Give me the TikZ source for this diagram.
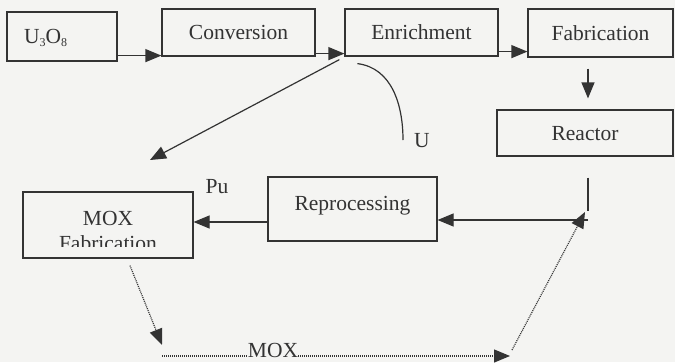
\documentclass[tikz,border=0pt]{standalone}
\usepackage{fontspec}
\setmainfont{Liberation Serif}
\usetikzlibrary{arrows.meta}
\definecolor{ink}{HTML}{333333}
\definecolor{paper}{HTML}{F4F4F2}
\begin{document}
\begin{tikzpicture}[x=1pt,y=-1pt,
  font=\fontsize{21.5}{25}\selectfont,
  box/.style={draw=ink, line width=1.2pt, inner sep=0pt, text=ink},
  low/.style={text height=17pt, text depth=3pt},
  lbl/.style={text=ink, inner sep=0pt},
  link/.style={draw=ink, line width=1.2pt},
  flow/.style={link, -{Triangle[length=16pt,width=13pt]}},
  dots/.style={draw=ink, line width=1.2pt, dash pattern=on 1pt off 1pt,
               -{Triangle[length=16pt,width=13pt]}}]
\fill[paper] (0,0) rectangle (675,362);
\useasboundingbox (0,0) rectangle (675,362);

% main fuel chain
\node[box, low, minimum width=110pt, minimum height=49pt, text width=76pt,
      inner xsep=17pt, align=left] (u3o8) at (62,36.5)
  {U{\fontsize{12}{12}\selectfont\raisebox{-3pt}{3}}O{\fontsize{12}{12}\selectfont\raisebox{-3pt}{8}}};
\node[box, low, minimum width=153pt, minimum height=47pt] (conv) at (238.5,32.5) {Conversion};
\node[box, low, minimum width=153pt, minimum height=47pt] (enr) at (421.5,32.5) {Enrichment};
\node[box, low, minimum width=145pt, minimum height=48pt] (fab) at (600.5,33) {Fabrication};
\node[box, low, minimum width=176pt, minimum height=46pt] (reac) at (585,133) {Reactor};
\node[box, text depth=12pt, minimum width=169pt, minimum height=64pt] (repro) at (352.5,209) {Reprocessing};
\node[box, minimum width=170pt, minimum height=66pt] (mox) at (108,225) {};
\node[lbl] (moxa) at (108,218) {MOX};
\begin{scope}
  \clip (23,192) rectangle (193,246);
  \node[lbl, anchor=base] (moxb) at (108,250) {Fabrication};
\end{scope}

\draw[flow] ([yshift=6pt]u3o8.south east) -- ([yshift=6pt]u3o8.south east -| conv.west);
\draw[flow] ([yshift=3pt]conv.south east) -- ([yshift=3pt]conv.south east -| enr.west);
\draw[flow] ([yshift=5pt]enr.south east) -- ([yshift=5pt]enr.south east -| fab.west);
\draw[flow] ([xshift=-12.5pt,yshift=-11pt]fab.south) -- ([xshift=3pt,yshift=11pt]reac.north);

% spent fuel to reprocessing
\draw[link] ([xshift=3pt,yshift=-21pt]reac.south) -- ++(0,33);
\coordinate (rx) at (588,220);
\draw[flow] (rx) -- (rx -| repro.east);

% plutonium to MOX fabrication
\draw[flow] ([yshift=-13pt]repro.west) -- ([yshift=-13pt]repro.west -| mox.east);
\node[lbl] (pu) at (217,187) {Pu};

% uranium return
\coordinate (dtip) at (150,160);
\draw[flow] ([xshift=-5pt,yshift=-3pt]enr.south west) -- (dtip);
\coordinate (uend) at (403,140);
\draw[link] ([xshift=13pt,yshift=-7pt]enr.south west)
  .. controls (392,68) and (403,105) .. (uend);
\node[lbl] (ulbl) at (422,141) {U};

% MOX fuel back to the reactor
\coordinate (d1) at (162,345);
\coordinate (d2) at (162,356);
\coordinate (d3) at (510,356);
\coordinate (d4) at (512,350);
\draw[dots] ([xshift=22pt,yshift=-7pt]mox.south) -- (d1);
\draw[dots] (d2) -- (d3);
\draw[dots] (d4) -- ([xshift=-3pt,yshift=8pt]rx);
\node[lbl, fill=paper, anchor=base] (moxlbl) at (273,357) {MOX};
\end{tikzpicture}
\end{document}
